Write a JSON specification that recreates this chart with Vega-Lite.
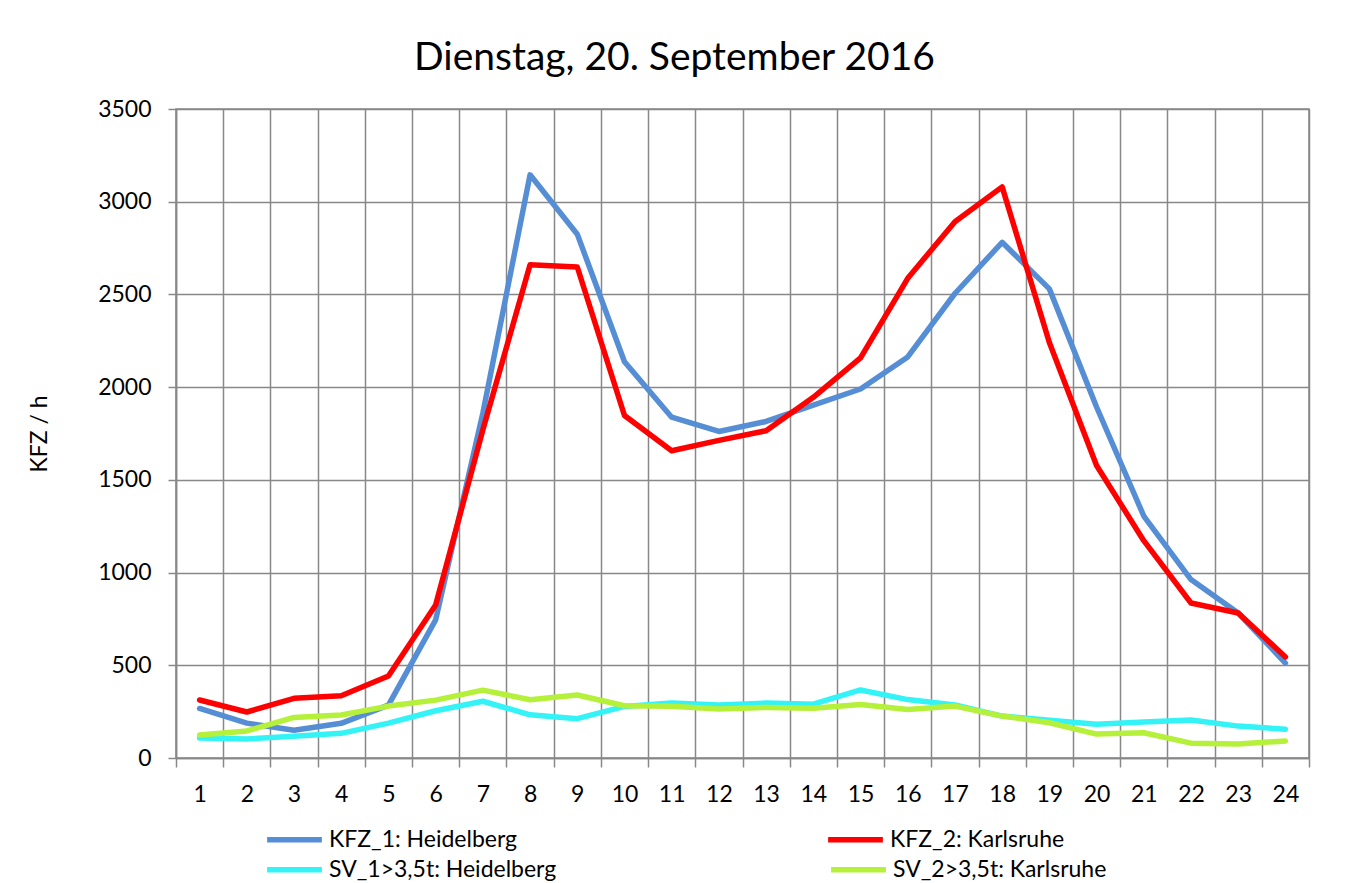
{
  "$schema": "https://vega.github.io/schema/vega-lite/v6.json",
  "autosize": "none",
  "width": 1133,
  "height": 649,
  "padding": {"left": 176, "top": 109, "right": 37, "bottom": 125},
  "background": "white",
  "title": {
    "text": "Dienstag, 20. September 2016",
    "font": "Lato",
    "fontSize": 39,
    "fontWeight": "normal",
    "color": "black",
    "anchor": "middle",
    "dx": -68,
    "dy": 50,
    "baseline": "alphabetic",
    "offset": 39
  },
  "data": {
    "values": [
      {"h": 1, "KFZ_1: Heidelberg": 267, "KFZ_2: Karlsruhe": 313, "SV_1>3,5t: Heidelberg": 108, "SV_2>3,5t: Karlsruhe": 124},
      {"h": 2, "KFZ_1: Heidelberg": 188, "KFZ_2: Karlsruhe": 248, "SV_1>3,5t: Heidelberg": 103, "SV_2>3,5t: Karlsruhe": 146},
      {"h": 3, "KFZ_1: Heidelberg": 150, "KFZ_2: Karlsruhe": 322, "SV_1>3,5t: Heidelberg": 117, "SV_2>3,5t: Karlsruhe": 219},
      {"h": 4, "KFZ_1: Heidelberg": 187, "KFZ_2: Karlsruhe": 336, "SV_1>3,5t: Heidelberg": 133, "SV_2>3,5t: Karlsruhe": 232},
      {"h": 5, "KFZ_1: Heidelberg": 285, "KFZ_2: Karlsruhe": 442, "SV_1>3,5t: Heidelberg": 188, "SV_2>3,5t: Karlsruhe": 280},
      {"h": 6, "KFZ_1: Heidelberg": 745, "KFZ_2: Karlsruhe": 825, "SV_1>3,5t: Heidelberg": 255, "SV_2>3,5t: Karlsruhe": 312},
      {"h": 7, "KFZ_1: Heidelberg": 1860, "KFZ_2: Karlsruhe": 1770, "SV_1>3,5t: Heidelberg": 306, "SV_2>3,5t: Karlsruhe": 366},
      {"h": 8, "KFZ_1: Heidelberg": 3145, "KFZ_2: Karlsruhe": 2660, "SV_1>3,5t: Heidelberg": 233, "SV_2>3,5t: Karlsruhe": 314},
      {"h": 9, "KFZ_1: Heidelberg": 2825, "KFZ_2: Karlsruhe": 2648, "SV_1>3,5t: Heidelberg": 212, "SV_2>3,5t: Karlsruhe": 340},
      {"h": 10, "KFZ_1: Heidelberg": 2137, "KFZ_2: Karlsruhe": 1847, "SV_1>3,5t: Heidelberg": 278, "SV_2>3,5t: Karlsruhe": 282},
      {"h": 11, "KFZ_1: Heidelberg": 1838, "KFZ_2: Karlsruhe": 1657, "SV_1>3,5t: Heidelberg": 296, "SV_2>3,5t: Karlsruhe": 279},
      {"h": 12, "KFZ_1: Heidelberg": 1761, "KFZ_2: Karlsruhe": 1713, "SV_1>3,5t: Heidelberg": 286, "SV_2>3,5t: Karlsruhe": 264},
      {"h": 13, "KFZ_1: Heidelberg": 1815, "KFZ_2: Karlsruhe": 1765, "SV_1>3,5t: Heidelberg": 296, "SV_2>3,5t: Karlsruhe": 273},
      {"h": 14, "KFZ_1: Heidelberg": 1903, "KFZ_2: Karlsruhe": 1945, "SV_1>3,5t: Heidelberg": 290, "SV_2>3,5t: Karlsruhe": 268},
      {"h": 15, "KFZ_1: Heidelberg": 1990, "KFZ_2: Karlsruhe": 2158, "SV_1>3,5t: Heidelberg": 367, "SV_2>3,5t: Karlsruhe": 288},
      {"h": 16, "KFZ_1: Heidelberg": 2163, "KFZ_2: Karlsruhe": 2587, "SV_1>3,5t: Heidelberg": 315, "SV_2>3,5t: Karlsruhe": 261},
      {"h": 17, "KFZ_1: Heidelberg": 2505, "KFZ_2: Karlsruhe": 2892, "SV_1>3,5t: Heidelberg": 286, "SV_2>3,5t: Karlsruhe": 280},
      {"h": 18, "KFZ_1: Heidelberg": 2781, "KFZ_2: Karlsruhe": 3080, "SV_1>3,5t: Heidelberg": 226, "SV_2>3,5t: Karlsruhe": 226},
      {"h": 19, "KFZ_1: Heidelberg": 2530, "KFZ_2: Karlsruhe": 2241, "SV_1>3,5t: Heidelberg": 203, "SV_2>3,5t: Karlsruhe": 190},
      {"h": 20, "KFZ_1: Heidelberg": 1893, "KFZ_2: Karlsruhe": 1577, "SV_1>3,5t: Heidelberg": 182, "SV_2>3,5t: Karlsruhe": 129},
      {"h": 21, "KFZ_1: Heidelberg": 1305, "KFZ_2: Karlsruhe": 1172, "SV_1>3,5t: Heidelberg": 194, "SV_2>3,5t: Karlsruhe": 136},
      {"h": 22, "KFZ_1: Heidelberg": 962, "KFZ_2: Karlsruhe": 836, "SV_1>3,5t: Heidelberg": 205, "SV_2>3,5t: Karlsruhe": 80},
      {"h": 23, "KFZ_1: Heidelberg": 782, "KFZ_2: Karlsruhe": 782, "SV_1>3,5t: Heidelberg": 172, "SV_2>3,5t: Karlsruhe": 75},
      {"h": 24, "KFZ_1: Heidelberg": 512, "KFZ_2: Karlsruhe": 545, "SV_1>3,5t: Heidelberg": 155, "SV_2>3,5t: Karlsruhe": 92}
    ]
  },
  "transform": [
    {"fold": ["KFZ_1: Heidelberg", "KFZ_2: Karlsruhe", "SV_1>3,5t: Heidelberg", "SV_2>3,5t: Karlsruhe"], "as": ["series", "value"]}
  ],
  "encoding": {
    "x": {
      "field": "h",
      "type": "ordinal",
      "scale": {"type": "band", "paddingInner": 0, "paddingOuter": 0},
      "axis": {
        "title": null,
        "labelAngle": 0,
        "tickBand": "extent",
        "grid": true,
        "gridColor": "#888888",
        "gridWidth": 1.5,
        "gridOpacity": 1,
        "domainColor": "#888888",
        "domainWidth": 1.5,
        "tickColor": "#888888",
        "tickWidth": 1.5,
        "tickSize": 9,
        "labelFont": "Lato",
        "labelFontSize": 23,
        "labelColor": "black",
        "labelPadding": 16
      }
    },
    "y": {
      "field": "value",
      "type": "quantitative",
      "scale": {"domain": [0, 3500], "nice": false},
      "axis": {
        "title": "KFZ / h",
        "titleFont": "Lato",
        "titleFontSize": 23,
        "titleFontWeight": "normal",
        "titleColor": "black",
        "titlePadding": 46,
        "format": "d",
        "values": [0, 500, 1000, 1500, 2000, 2500, 3000, 3500],
        "grid": true,
        "gridColor": "#888888",
        "gridWidth": 1.5,
        "gridOpacity": 1,
        "domainColor": "#888888",
        "domainWidth": 1.5,
        "tickColor": "#888888",
        "tickWidth": 1.5,
        "tickSize": 8,
        "labelFont": "Lato",
        "labelFontSize": 23,
        "labelColor": "black",
        "labelPadding": 17
      }
    }
  },
  "layer": [
    {
      "transform": [{"filter": {"field": "series", "oneOf": ["KFZ_1: Heidelberg", "KFZ_2: Karlsruhe"]}}],
      "mark": {"type": "line", "strokeWidth": 5.5, "strokeJoin": "round", "strokeCap": "round"},
      "encoding": {
        "color": {
          "field": "series",
          "type": "nominal",
          "scale": {"domain": ["KFZ_1: Heidelberg", "KFZ_2: Karlsruhe"], "range": ["#558ED5", "#FF0000"]},
          "legend": {
            "title": null,
            "orient": "none",
            "direction": "horizontal",
            "legendX": 88,
            "legendY": 700,
            "columnPadding": 299,
            "padding": 0,
            "symbolType": "stroke",
            "symbolSize": 3000,
            "symbolStrokeWidth": 5.5,
            "labelFont": "Lato",
            "labelFontSize": 23,
            "labelColor": "black",
            "labelLimit": 500,
            "labelOffset": 4
          }
        }
      }
    },
    {
      "transform": [{"filter": {"field": "series", "oneOf": ["SV_1>3,5t: Heidelberg", "SV_2>3,5t: Karlsruhe"]}}],
      "mark": {"type": "line", "strokeWidth": 5.5, "strokeJoin": "round", "strokeCap": "round"},
      "encoding": {
        "color": {
          "field": "series",
          "type": "nominal",
          "scale": {"domain": ["SV_1>3,5t: Heidelberg", "SV_2>3,5t: Karlsruhe"], "range": ["#33F3F7", "#B5F03A"]},
          "legend": {
            "title": null,
            "orient": "none",
            "direction": "horizontal",
            "legendX": 88,
            "legendY": 730,
            "columnPadding": 263,
            "padding": 0,
            "symbolType": "stroke",
            "symbolSize": 3000,
            "symbolStrokeWidth": 5.5,
            "labelFont": "Lato",
            "labelFontSize": 23,
            "labelColor": "black",
            "labelLimit": 500,
            "labelOffset": 4
          }
        }
      }
    }
  ],
  "resolve": {"scale": {"color": "independent"}, "legend": {"color": "independent"}},
  "config": {
    "view": {"stroke": "#888888", "strokeWidth": 1.5}
  }
}
